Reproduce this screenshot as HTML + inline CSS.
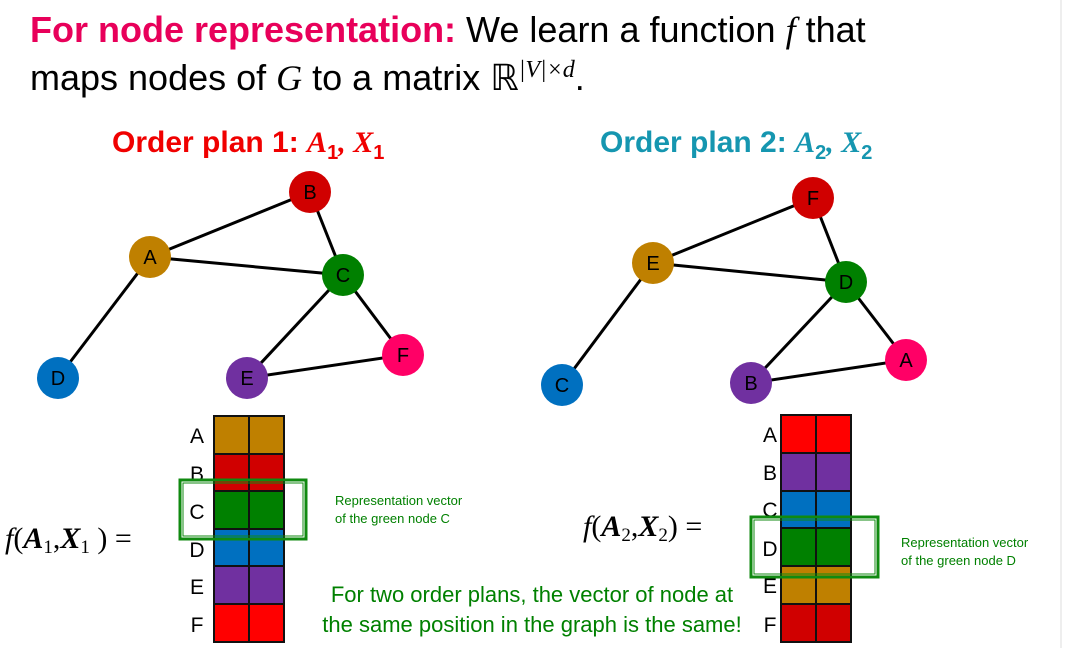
<!DOCTYPE html>
<html><head><style>
body{margin:0;width:1068px;height:648px;background:#fff;overflow:hidden;position:relative;font-family:"Liberation Sans",sans-serif}
.t{position:absolute;white-space:nowrap}
</style></head><body>
<div class="t" style="left:30px;top:10px;font-size:36px;line-height:40px;color:#000"><span style="color:#E8005A;font-weight:bold">For node representation:</span> We learn a function <i style="font-family:'Liberation Serif'">f</i> that<br>maps nodes of <i style="font-family:'Liberation Serif'">G</i> to a matrix <span style="font-family:'Liberation Serif'">ℝ<sup style="font-size:24px"><i>|V|×d</i></sup></span>.</div>
<div class="t" style="left:112px;top:126px;font-size:30px;font-weight:bold;color:#F00000">Order plan 1: <i style="font-family:'Liberation Serif'">A</i><sub style="font-size:20px">1</sub><i style="font-family:'Liberation Serif'">, X</i><sub style="font-size:20px">1</sub></div>
<div class="t" style="left:600px;top:126px;font-size:30px;font-weight:bold;color:#1596B0">Order plan 2: <i style="font-family:'Liberation Serif'">A</i><sub style="font-size:20px">2</sub><i style="font-family:'Liberation Serif'">, X</i><sub style="font-size:20px">2</sub></div>
<svg width="1068" height="648" style="position:absolute;left:0;top:0" font-family="Liberation Sans" font-size="20">
<g stroke="#000" stroke-width="3">
<line x1="150" y1="257" x2="310" y2="192"/><line x1="150" y1="257" x2="343" y2="275"/><line x1="150" y1="257" x2="58" y2="378"/><line x1="310" y1="192" x2="343" y2="275"/><line x1="343" y1="275" x2="247" y2="378"/><line x1="343" y1="275" x2="403" y2="355"/><line x1="247" y1="378" x2="403" y2="355"/>
<line x1="653" y1="263" x2="813" y2="198"/><line x1="653" y1="263" x2="846" y2="282"/><line x1="653" y1="263" x2="562" y2="385"/><line x1="813" y1="198" x2="846" y2="282"/><line x1="846" y1="282" x2="751" y2="383"/><line x1="846" y1="282" x2="906" y2="360"/><line x1="751" y1="383" x2="906" y2="360"/>
</g>
<g text-anchor="middle" fill="#000">
<circle cx="150" cy="257" r="21" fill="#BF8000"/><text x="150" y="264">A</text>
<circle cx="310" cy="192" r="21" fill="#D00000"/><text x="310" y="199">B</text>
<circle cx="343" cy="275" r="21" fill="#008000"/><text x="343" y="282">C</text>
<circle cx="58" cy="378" r="21" fill="#0070C0"/><text x="58" y="385">D</text>
<circle cx="247" cy="378" r="21" fill="#7030A0"/><text x="247" y="385">E</text>
<circle cx="403" cy="355" r="21" fill="#FF0066"/><text x="403" y="362">F</text>
<circle cx="653" cy="263" r="21" fill="#BF8000"/><text x="653" y="270">E</text>
<circle cx="813" cy="198" r="21" fill="#D00000"/><text x="813" y="205">F</text>
<circle cx="846" cy="282" r="21" fill="#008000"/><text x="846" y="289">D</text>
<circle cx="562" cy="385" r="21" fill="#0070C0"/><text x="562" y="392">C</text>
<circle cx="751" cy="383" r="21" fill="#7030A0"/><text x="751" y="390">B</text>
<circle cx="906" cy="360" r="21" fill="#FF0066"/><text x="906" y="367">A</text>
</g>
<g stroke="#111" stroke-width="2">
<rect x="214" y="416" width="35" height="38" fill="#BF8000"/><rect x="249" y="416" width="35" height="38" fill="#BF8000"/>
<rect x="214" y="454" width="35" height="37" fill="#D00000"/><rect x="249" y="454" width="35" height="37" fill="#D00000"/>
<rect x="214" y="491" width="35" height="38" fill="#008000"/><rect x="249" y="491" width="35" height="38" fill="#008000"/>
<rect x="214" y="529" width="35" height="37" fill="#0070C0"/><rect x="249" y="529" width="35" height="37" fill="#0070C0"/>
<rect x="214" y="566" width="35" height="38" fill="#7030A0"/><rect x="249" y="566" width="35" height="38" fill="#7030A0"/>
<rect x="214" y="604" width="35" height="38" fill="#FF0000"/><rect x="249" y="604" width="35" height="38" fill="#FF0000"/>
<rect x="781" y="415" width="35" height="38" fill="#FF0000"/><rect x="816" y="415" width="35" height="38" fill="#FF0000"/>
<rect x="781" y="453" width="35" height="38" fill="#7030A0"/><rect x="816" y="453" width="35" height="38" fill="#7030A0"/>
<rect x="781" y="491" width="35" height="37" fill="#0070C0"/><rect x="816" y="491" width="35" height="37" fill="#0070C0"/>
<rect x="781" y="528" width="35" height="38" fill="#008000"/><rect x="816" y="528" width="35" height="38" fill="#008000"/>
<rect x="781" y="566" width="35" height="38" fill="#BF8000"/><rect x="816" y="566" width="35" height="38" fill="#BF8000"/>
<rect x="781" y="604" width="35" height="38" fill="#D00000"/><rect x="816" y="604" width="35" height="38" fill="#D00000"/>
</g>
<g font-size="21" text-anchor="middle">
<text x="197" y="443">A</text><text x="197" y="481">B</text><text x="197" y="519">C</text><text x="197" y="557">D</text><text x="197" y="594">E</text><text x="197" y="632">F</text>
<text x="770" y="442">A</text><text x="770" y="480">B</text><text x="770" y="517">C</text><text x="770" y="556">D</text><text x="770" y="593">E</text><text x="770" y="632">F</text>
</g>
<g fill="none" stroke="#108A10">
<rect x="180" y="480" width="126" height="59" stroke-width="3"/><rect x="183" y="483" width="120" height="53" stroke-width="1"/>
<rect x="751" y="517" width="127" height="60" stroke-width="3"/><rect x="754" y="520" width="121" height="54" stroke-width="1"/>
</g>
<g fill="#008000" font-size="13"><text x="335" y="505">Representation vector</text><text x="335" y="523">of the green node C</text>
<text x="901" y="547">Representation vector</text><text x="901" y="565">of the green node D</text></g>
<g fill="#008000" font-size="22" text-anchor="middle"><text x="532" y="602">For two order plans, the vector of node at</text><text x="532" y="632">the same position in the graph is the same!</text></g>
<g font-family="Liberation Serif" font-size="30" fill="#000">
<text x="5" y="548"><tspan font-style="italic">f</tspan>(<tspan font-weight="bold" font-style="italic">A</tspan><tspan font-size="19" dy="5">1</tspan><tspan dy="-5">,</tspan><tspan font-weight="bold" font-style="italic">X</tspan><tspan font-size="19" dy="5">1</tspan><tspan dy="-5"> ) =</tspan></text>
<text x="583" y="536"><tspan font-style="italic">f</tspan>(<tspan font-weight="bold" font-style="italic">A</tspan><tspan font-size="19" dy="5">2</tspan><tspan dy="-5">,</tspan><tspan font-weight="bold" font-style="italic">X</tspan><tspan font-size="19" dy="5">2</tspan><tspan dy="-5">) =</tspan></text>
</g>
<line x1="1061" y1="0" x2="1061" y2="648" stroke="#ddd" stroke-width="1"/>
</svg>
</body></html>
